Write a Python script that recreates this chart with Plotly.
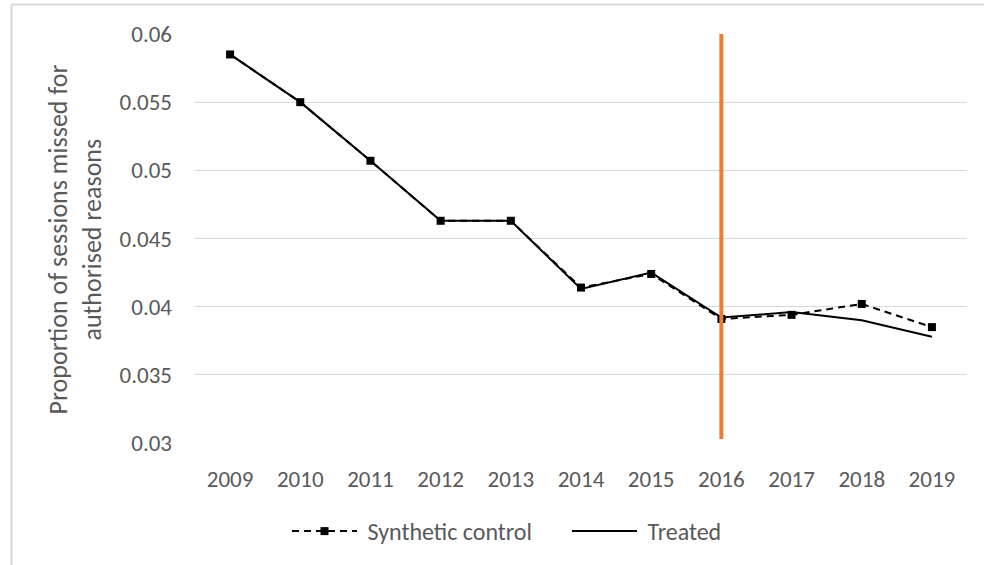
import plotly.graph_objects as go

years = ["2009", "2010", "2011", "2012", "2013", "2014", "2015", "2016", "2017", "2018", "2019"]
synthetic_control = [0.0585, 0.0550, 0.0507, 0.0463, 0.0463, 0.0414, 0.0424, 0.0391, 0.0394, 0.0402, 0.0385]
treated = [0.0585, 0.0550, 0.0507, 0.0463, 0.0463, 0.0413, 0.0425, 0.0392, 0.0396, 0.0390, 0.0378]
treatment_year = "2016"
y_tick_values = [0.03, 0.035, 0.04, 0.045, 0.05, 0.055, 0.06]
y_tick_labels = ["0.03", "0.035", "0.04", "0.045", "0.05", "0.055", "0.06"]
y_title_lines = ["Proportion of sessions missed for", "authorised reasons"]

FONT = "Carlito, Calibri, Lato, sans-serif"
GREY = "#595959"

W, H = 984, 565
L, R, T, B = 195, 17, 34, 121
pw, ph = W - L - R, H - T - B

def px_x(p):
    return (p - L) / pw

def px_y(p):
    return (H - B - p) / ph

fig = go.Figure()
fig.add_trace(go.Scatter(
    x=years, y=synthetic_control, name=" Synthetic control", mode="lines+markers",
    line=dict(color="black", width=2, dash="7px,5px"),
    marker=dict(symbol="square", size=8, color="black"),
))
fig.add_trace(go.Scatter(
    x=years, y=treated, name=" Treated", mode="lines",
    line=dict(color="black", width=2),
))

# treatment year marker (category index on the category axis)
tx = years.index(treatment_year)
fig.add_shape(type="line", xref="x", yref="y", x0=tx, x1=tx,
              y0=0.0303, y1=0.06, line=dict(color="#ED7D31", width=4), layer="above")

# chart area border (top and left edges; the rest lies outside the picture)
fig.add_shape(type="line", xref="paper", yref="paper",
              x0=px_x(11.5), x1=px_x(W + 5), y0=px_y(4.5), y1=px_y(4.5),
              line=dict(color="#d9d9d9", width=2), layer="above")
fig.add_shape(type="line", xref="paper", yref="paper",
              x0=px_x(11.5), x1=px_x(11.5), y0=px_y(4.5), y1=px_y(H + 5),
              line=dict(color="#d9d9d9", width=2), layer="above")

# y-axis title (two lines)
for line_text, xc in zip(y_title_lines, [58, 92]):
    fig.add_annotation(text=line_text, xref="paper", yref="paper",
                       x=px_x(xc), y=px_y(240), xanchor="center", yanchor="middle",
                       textangle=-90, showarrow=False,
                       font=dict(family=FONT, size=26, color=GREY))

fig.update_layout(
    width=W, height=H,
    margin=dict(l=L, r=R, t=T, b=B),
    paper_bgcolor="white", plot_bgcolor="white",
    font=dict(family=FONT, size=23, color=GREY),
    showlegend=True,
    legend=dict(orientation="h", x=px_x(287), xanchor="left", y=px_y(509), yanchor="top",
                itemwidth=65, entrywidth=200, entrywidthmode="pixels",
                font=dict(family=FONT, size=24, color=GREY),
                traceorder="normal"),
    xaxis=dict(type="category", range=[-0.5, len(years) - 0.5], showline=False,
               showgrid=False, ticks="", ticklabelstandoff=20,
               tickfont=dict(family=FONT, size=23, color=GREY)),
    yaxis=dict(range=[0.03, 0.06], tickvals=y_tick_values, ticktext=y_tick_labels,
               showline=False, showgrid=True, gridcolor="#d9d9d9", gridwidth=1,
               zeroline=False, ticks="", ticklabelstandoff=22,
               tickfont=dict(family=FONT, size=23, color=GREY)),
)

fig.write_html("out.html", config={"displayModeBar": False},
               post_script="document.body.style.margin='0px';")
